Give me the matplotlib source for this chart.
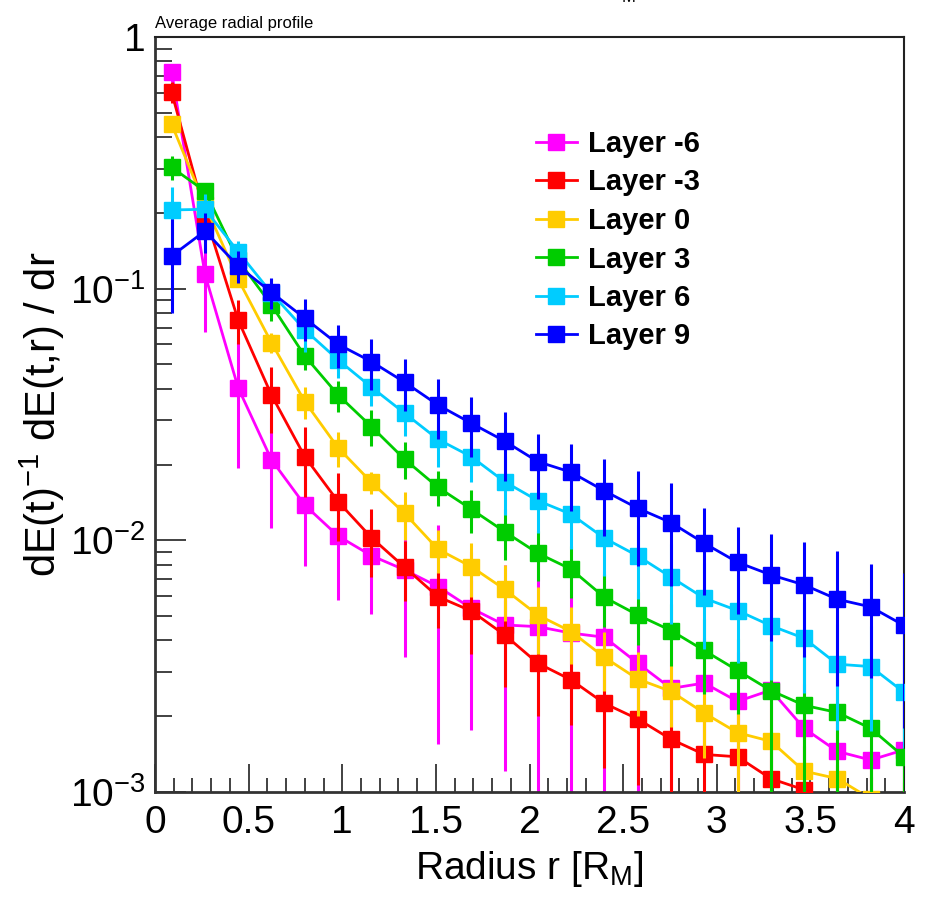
import numpy as np
import matplotlib
matplotlib.use('Agg')
import matplotlib.pyplot as plt
from matplotlib.lines import Line2D
from matplotlib.ticker import NullFormatter, MultipleLocator, LogLocator

plt.rcParams['font.family'] = ['Liberation Sans', 'DejaVu Sans']
plt.rcParams['mathtext.fontset'] = 'custom'
plt.rcParams['mathtext.rm'] = 'Liberation Sans'
plt.rcParams['mathtext.it'] = 'Liberation Sans:italic'

# bin centres in Moliere radii
radius = [0.089, 0.267, 0.444, 0.622, 0.8, 0.978, 1.156, 1.333, 1.511, 1.689, 1.867, 2.044,
          2.222, 2.4, 2.578, 2.756, 2.933, 3.111, 3.289, 3.467, 3.644, 3.822, 4.0]

layer_m6 = [0.724, 0.114, 0.0404, 0.0209, 0.0138, 0.0104, 0.00869, 0.00763, 0.00655, 0.00537,
            0.00461, 0.00454, 0.00428, 0.00412, 0.00325, 0.00258, 0.00271, 0.00229, 0.00254,
            0.00179, 0.00145, 0.00134, 0.00147]
err_m6 = [0.06, 0.047, 0.021, 0.0097, 0.0059, 0.0046, 0.0036, 0.0042, 0.005, 0.0036, 0.0034,
          0.0037, 0.0035, 0.0034, 0.0025, 0.0016, 0.0014, 0.0013, 0.0013, 0.0009, 0.0008,
          0.0007, 0.0008]

layer_m3 = [0.603, 0.197, 0.0751, 0.0378, 0.0215, 0.01425, 0.01025, 0.00782, 0.00597, 0.00524,
            0.00421, 0.00325, 0.00279, 0.00225, 0.00195, 0.00162, 0.00141, 0.00138, 0.00113,
            0.00102, 0.00088, 0.00075, 0.0007]
err_m3 = [0.058, 0.025, 0.015, 0.011, 0.0066, 0.0043, 0.0031, 0.0021, 0.0015, 0.0017, 0.0016,
          0.00125, 0.00095, 0.001, 0.00088, 0.0008, 0.0007, 0.0007, 0.0006, 0.0005, 0.0004,
          0.0004, 0.0004]

layer_0 = [0.45, 0.215, 0.109, 0.061, 0.0356, 0.0233, 0.017, 0.0128, 0.00922, 0.00786, 0.00639,
           0.00505, 0.00434, 0.00343, 0.00281, 0.00251, 0.00206, 0.00172, 0.00159, 0.00121,
           0.00113, 0.00094, 0.0008]
err_0 = [0.03, 0.02, 0.007, 0.0055, 0.0052, 0.0037, 0.0017, 0.0028, 0.0018, 0.0019, 0.0016,
         0.0015, 0.0011, 0.0009, 0.0008, 0.0007, 0.0007, 0.0008, 0.0008, 0.0006, 0.0006,
         0.0005, 0.0005]

layer_3 = [0.3035, 0.244, 0.13, 0.0861, 0.054, 0.0378, 0.0283, 0.021, 0.01625, 0.0133, 0.01083,
           0.00889, 0.00768, 0.00594, 0.00505, 0.00438, 0.00365, 0.00304, 0.00253, 0.00221,
           0.00207, 0.00179, 0.00138]
err_3 = [0.033, 0.012, 0.012, 0.012, 0.0065, 0.0053, 0.0046, 0.0035, 0.0026, 0.0026, 0.0025,
         0.002, 0.0018, 0.0014, 0.0012, 0.0012, 0.0012, 0.001, 0.0016, 0.0013, 0.0012,
         0.0011, 0.0009]

layer_6 = [0.2055, 0.2067, 0.1403, 0.096, 0.0686, 0.0521, 0.0406, 0.032, 0.0252, 0.0215, 0.0171,
           0.01438, 0.0127, 0.0102, 0.00867, 0.00714, 0.00589, 0.00526, 0.00458, 0.00408,
           0.00322, 0.00315, 0.00249]
err_6 = [0.049, 0.03, 0.014, 0.013, 0.0124, 0.008, 0.0064, 0.0061, 0.0056, 0.0045, 0.0045,
         0.0037, 0.0035, 0.003, 0.0028, 0.0025, 0.0022, 0.002, 0.0018, 0.0016, 0.00145,
         0.0014, 0.001]

layer_9 = [0.1349, 0.1695, 0.123, 0.0967, 0.0763, 0.0601, 0.0513, 0.0425, 0.0345, 0.0292, 0.0248,
           0.02055, 0.01865, 0.01572, 0.01341, 0.01176, 0.00974, 0.00818, 0.00729, 0.00665,
           0.00583, 0.00544, 0.00459]
err_9 = [0.055, 0.031, 0.018, 0.014, 0.0144, 0.0116, 0.0118, 0.0099, 0.0092, 0.0078, 0.0076,
         0.006, 0.0056, 0.0053, 0.0055, 0.0052, 0.0037, 0.0031, 0.0033, 0.0032, 0.0032,
         0.0026, 0.0028]

labels = ['Layer -6', 'Layer -3', 'Layer 0', 'Layer 3', 'Layer 6', 'Layer 9']
colors = ['#ff00ff', '#ff0000', '#ffcc00', '#00cc00', '#00ccff', '#0000ff']
series = [layer_m6, layer_m3, layer_0, layer_3, layer_6, layer_9]
errors = [err_m6, err_m3, err_0, err_3, err_6, err_9]

x_ticks = [0, 0.5, 1, 1.5, 2, 2.5, 3, 3.5, 4]
x_ticklabels = ['0', '0.5', '1', '1.5', '2', '2.5', '3', '3.5', '4']
y_ticks = [1e-3, 1e-2, 1e-1, 1]
y_ticklabels = ['10$^{\\mathregular{\u22123}}$', '10$^{\\mathregular{\u22122}}$',
                '10$^{\\mathregular{\u22121}}$', '1']

W, H = 925, 897
fig = plt.figure(figsize=(W / 100, H / 100), dpi=100)
ax = fig.add_axes([155 / W, 1 - 792 / H, 749 / W, 755 / H])

handles = []
for i, (vals, errs, col, lab) in enumerate(zip(series, errors, colors, labels)):
    ax.errorbar(radius, vals, yerr=errs, color=col, marker='s', markersize=11,
                lw=2, elinewidth=2.2, capsize=0, zorder=2 + i)
    handles.append(Line2D([], [], color=col, marker='s', markersize=11, lw=2, label=lab))

ax.set_yscale('log')
ax.set_ylim(1e-3, 1)
ax.set_xlim(0, 4)

ax.set_yticks(y_ticks)
ax.set_yticklabels(y_ticklabels)
ax.yaxis.set_minor_locator(LogLocator(base=10, subs=np.arange(2, 10)))
ax.yaxis.set_minor_formatter(NullFormatter())
ax.set_xticks(x_ticks)
ax.set_xticklabels(x_ticklabels)
ax.xaxis.set_minor_locator(MultipleLocator(0.1))

ax.tick_params(axis='both', which='major', direction='in', labelsize=28, width=1.3,
               color='#333333', top=False, right=False)
ax.tick_params(axis='y', which='major', length=22, pad=7)
ax.tick_params(axis='x', which='major', length=20, pad=9)
ax.tick_params(axis='both', which='minor', direction='in', width=1.3, color='#333333',
               top=False, right=False)
ax.tick_params(axis='y', which='minor', length=12)
ax.tick_params(axis='x', which='minor', length=10)

for side in ['left', 'bottom']:
    ax.spines[side].set_linewidth(2)
    ax.spines[side].set_color('#333333')
for side in ['top', 'right']:
    ax.spines[side].set_linewidth(1.5)
    ax.spines[side].set_color('#222222')

ax.set_xlabel('Radius r [R$_{\\mathregular{M}}$]', fontsize=28)
ax.xaxis.set_label_coords(0.5, -0.075)
ax.xaxis.label.set_va('top')
ax.set_ylabel('dE(t)$^{\\mathregular{-1}}$ dE(t,r) / dr', fontsize=30)
ax.yaxis.set_label_coords(-0.118, 0.5)

fig.text(155 / W, 1 - 28 / H, 'Average radial profile', fontsize=12, ha='left', va='baseline')
fig.text(629 / W, 1 + 3 / H, 'M', fontsize=12, ha='center', va='center')

ax.legend(handles=handles, loc='upper left', bbox_to_anchor=(536 / W, 1 - 130 / H),
          bbox_transform=fig.transFigure, frameon=False,
          prop={'weight': 'bold', 'size': 21}, handlelength=1.4,
          handletextpad=0.4, labelspacing=0.36, borderpad=0, borderaxespad=0)

fig.savefig('out.png', dpi=100)
